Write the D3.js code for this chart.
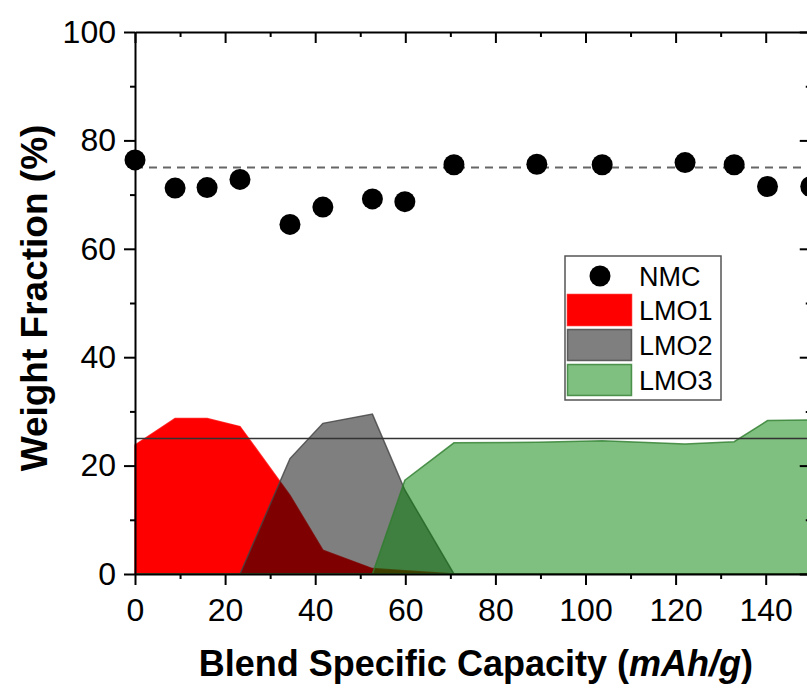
<!DOCTYPE html>
<html>
<head>
<meta charset="utf-8">
<script src="https://cdn.jsdelivr.net/npm/d3@7"></script>
<style>
  body { margin: 0; background: #fff; }
  text { font-family: "Liberation Sans", Arial, sans-serif; fill: #000; }
  .axis path, .axis line { stroke: #000; stroke-width: 2; }
</style>
</head>
<body>
<script>
// Step 1: data
//= ================================
var capacity = [0, 8.9, 16.0, 23.3, 34.4, 41.7, 52.7, 59.9, 70.8, 89.2, 103.7, 122.1, 133.0, 140.4, 150];
var nmc  = [76.4, 71.2, 71.3, 72.8, 64.5, 67.7, 69.2, 68.7, 75.5, 75.6, 75.5, 75.9, 75.5, 71.5, 71.5];
var lmo1 = [23.8, 28.7, 28.7, 27.2, 14.5, 4.4, 1.0, 0.6, 0, 0, 0, 0, 0, 0, 0];
var lmo2 = [0, 0, 0, 0, 21.3, 27.8, 29.5, 15.5, 0, 0, 0, 0, 0, 0, 0];
var lmo3 = [0, 0, 0, 0, 0, 0, 0, 17.3, 24.2, 24.3, 24.6, 24.0, 24.4, 28.3, 28.4];
var nmcRef = 75;
var lmoRef = 25;
var xTicks = [0, 20, 40, 60, 80, 100, 120, 140];
var yTicks = [0, 20, 40, 60, 80, 100];
var legendLabels = ["NMC", "LMO1", "LMO2", "LMO3"];

// Step 2: chart setup
//= ================================
var svgWidth = 807;
var svgHeight = 690;
var margin = { top: 32, left: 135 };
var chartWidth = 675.75;
var chartHeight = 542;

var svg = d3.select("body").append("svg")
    .attr("width", svgWidth)
    .attr("height", svgHeight);

var chartGroup = svg.append("g")
    .attr("transform", `translate(${margin.left}, ${margin.top})`);

var xScale = d3.scaleLinear().domain([0, 150]).range([0, chartWidth]);
var yScale = d3.scaleLinear().domain([0, 100]).range([chartHeight, 0]);

var rows = capacity.map((c, i) => ({ c: c, nmc: nmc[i], l1: lmo1[i], l2: lmo2[i], l3: lmo3[i] }));

/**********************************************/
// overlapping areas
var series = [
    { key: "l1", fill: "#ff0000", opacity: 1, stroke: "#ff0000" },
    { key: "l2", fill: "#000000", opacity: 0.5, stroke: "#444" },
    { key: "l3", fill: "#008000", opacity: 0.5, stroke: "#2e7d2e" }
];

series.forEach(function (s) {
    var area = d3.area()
        .x(d => xScale(d.c))
        .y0(yScale(0))
        .y1(d => yScale(d[s.key]));
    chartGroup.append("path")
        .attr("d", area(rows))
        .attr("fill", s.fill)
        .attr("fill-opacity", s.opacity)
        .attr("stroke", s.stroke)
        .attr("stroke-opacity", 0.8)
        .attr("stroke-width", 1.5);
});

// reference lines
chartGroup.append("line")
    .attr("x1", 0).attr("x2", chartWidth)
    .attr("y1", yScale(lmoRef)).attr("y2", yScale(lmoRef))
    .attr("stroke", "#333").attr("stroke-width", 1.5);

chartGroup.append("line")
    .attr("x1", 0).attr("x2", chartWidth)
    .attr("y1", yScale(nmcRef)).attr("y2", yScale(nmcRef))
    .attr("stroke", "#666").attr("stroke-width", 2)
    .attr("stroke-dasharray", "8,6");

// NMC points
chartGroup.selectAll(".nmcdot")
    .data(rows)
    .enter()
    .append("circle")
    .classed("nmcdot", true)
    .attr("cx", d => xScale(d.c))
    .attr("cy", d => yScale(d.nmc))
    .attr("r", 10.5)
    .attr("fill", "#000");

/**********************************************/
// axes: ticks outside on left/bottom, inside on top/right
var minorX = d3.range(10, 151, 20);
var minorY = d3.range(10, 100, 20);

chartGroup.append("g").attr("class", "axis")
    .attr("transform", `translate(0, ${chartHeight})`)
    .call(d3.axisBottom(xScale).tickValues(xTicks).tickSize(11).tickSizeOuter(0).tickPadding(13))
    .call(g => g.selectAll("text").style("font-size", "32px"));

chartGroup.append("g").attr("class", "axis")
    .attr("transform", `translate(0, ${chartHeight})`)
    .call(d3.axisBottom(xScale).tickValues(minorX).tickSize(5).tickFormat("").tickSizeOuter(0))
    .call(g => g.select(".domain").remove());

chartGroup.append("g").attr("class", "axis")
    .call(d3.axisLeft(yScale).tickValues(yTicks).tickSize(11).tickSizeOuter(0).tickPadding(8))
    .call(g => g.selectAll("text").style("font-size", "32px"));

chartGroup.append("g").attr("class", "axis")
    .call(d3.axisLeft(yScale).tickValues(minorY).tickSize(5).tickFormat(""))
    .call(g => g.select(".domain").remove());

chartGroup.append("g").attr("class", "axis")
    .call(d3.axisBottom(xScale).tickValues(xTicks).tickSize(11).tickFormat("").tickSizeOuter(0));
chartGroup.append("g").attr("class", "axis")
    .call(d3.axisBottom(xScale).tickValues(minorX).tickSize(5).tickFormat(""))
    .call(g => g.select(".domain").remove());

chartGroup.append("g").attr("class", "axis")
    .attr("transform", `translate(${chartWidth}, 0)`)
    .call(d3.axisRight(yScale).tickValues(yTicks).tickSize(-11).tickFormat("").tickSizeOuter(0));
chartGroup.append("g").attr("class", "axis")
    .attr("transform", `translate(${chartWidth}, 0)`)
    .call(d3.axisRight(yScale).tickValues(minorY).tickSize(-5).tickFormat(""))
    .call(g => g.select(".domain").remove());

/**********************************************/
createLabels();
createLegend();

function createLabels() {
    var xt = svg.append("text")
        .attr("x", margin.left + chartWidth / 2 + 3)
        .attr("y", 676)
        .attr("text-anchor", "middle")
        .style("font-size", "36px")
        .style("font-weight", "bold");
    xt.append("tspan").text("Blend Specific Capacity (");
    xt.append("tspan").style("font-style", "italic").text("mAh/g");
    xt.append("tspan").text(")");

    svg.append("text")
        .attr("transform", `translate(47, 298) rotate(-90)`)
        .attr("text-anchor", "middle")
        .style("font-size", "37px")
        .style("font-weight", "bold")
        .text("Weight Fraction (%)");
}

function createLegend() {
    var lg = svg.append("g").attr("transform", "translate(565, 256)");
    lg.append("rect")
        .attr("width", 156).attr("height", 144)
        .attr("fill", "#fff").attr("stroke", "#555").attr("stroke-width", 1.5);

    var rowY = [20, 54, 89, 124];
    lg.append("circle").attr("cx", 35).attr("cy", rowY[0]).attr("r", 10.5).attr("fill", "#000");

    series.forEach(function (s, i) {
        lg.append("rect")
            .attr("x", 2.5).attr("y", rowY[i + 1] - 15.5)
            .attr("width", 64).attr("height", 31)
            .attr("fill", s.fill).attr("fill-opacity", s.opacity)
            .attr("stroke", s.stroke).attr("stroke-opacity", 0.8).attr("stroke-width", 1.5);
    });

    lg.selectAll(".legtext")
        .data(legendLabels)
        .enter()
        .append("text")
        .attr("x", 74)
        .attr("y", (d, i) => rowY[i] + 10)
        .style("font-size", "27px")
        .text(d => d);
}
</script>
</body>
</html>
